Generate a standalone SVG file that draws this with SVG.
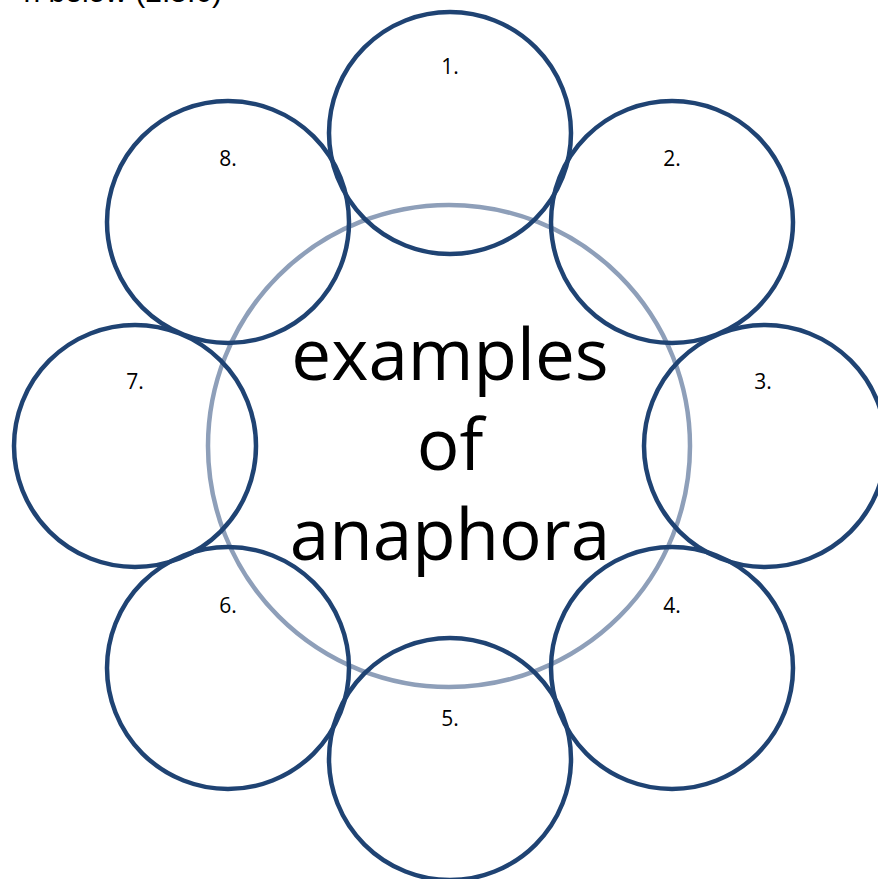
<svg xmlns="http://www.w3.org/2000/svg" width="878" height="879" viewBox="0 0 878 879">
<style>
.sat{fill:none;stroke:#1F4373;stroke-width:4.5}
.hub{fill:none;stroke:#8E9FB9;stroke-width:4.5}
.lbl{font-family:"Open Sans","Liberation Sans",sans-serif;font-size:21px;fill:#000;text-anchor:middle}
.main{font-family:"Open Sans","Liberation Sans",sans-serif;font-size:71px;fill:#000;text-anchor:middle}
</style>
<rect width="878" height="879" fill="#fff"/>
<text x="222" y="2" font-family="Liberation Sans, Arial, sans-serif" font-size="30" text-anchor="end">n below (2.5.6)</text>
<g id="center">
<circle class="hub" cx="449" cy="446" r="241"/>
<text class="main" x="450" y="380">examples</text>
<text class="main" x="450" y="470">of</text>
<text class="main" x="450" y="560">anaphora</text>
</g>
<g id="connectors"></g>
<g id="n1"><circle class="sat" cx="450" cy="133" r="121"/><text class="lbl" x="450" y="74">1.</text></g>
<g id="n2"><circle class="sat" cx="672" cy="222" r="121"/><text class="lbl" x="672" y="166">2.</text></g>
<g id="n3"><circle class="sat" cx="765" cy="446" r="121"/><text class="lbl" x="763" y="389">3.</text></g>
<g id="n4"><circle class="sat" cx="672" cy="668" r="121"/><text class="lbl" x="672" y="613">4.</text></g>
<g id="n5"><circle class="sat" cx="450" cy="759" r="121"/><text class="lbl" x="450" y="726">5.</text></g>
<g id="n6"><circle class="sat" cx="228" cy="668" r="121"/><text class="lbl" x="228" y="613">6.</text></g>
<g id="n7"><circle class="sat" cx="135" cy="446" r="121"/><text class="lbl" x="135" y="389">7.</text></g>
<g id="n8"><circle class="sat" cx="228" cy="222" r="121"/><text class="lbl" x="228" y="166">8.</text></g>
</svg>
